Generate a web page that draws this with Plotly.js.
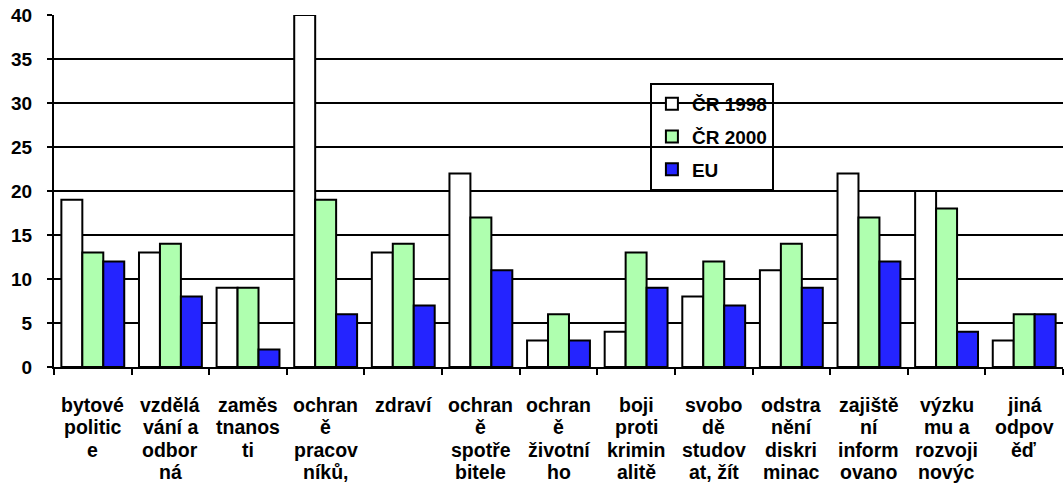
<!DOCTYPE html>
<html>
<head>
<meta charset="utf-8">
<script src="https://cdn.plot.ly/plotly-3.0.1.min.js"></script>
<style>html,body{margin:0;padding:0;background:#fff;}#chart{width:1064px;height:496px;}</style>
</head>
<body>
<div id="chart"></div>
<script>
const categories = [
  "bytové<br>politic<br>e",
  "vzdělá<br>vání a<br>odbor<br>ná",
  "zaměs<br>tnanos<br>ti",
  "ochran<br>ě<br>pracov<br>níků,",
  "zdraví",
  "ochran<br>ě<br>spotře<br>bitele",
  "ochran<br>ě<br>životní<br>ho",
  "boji<br>proti<br>krimin<br>alitě",
  "svobo<br>dě<br>studov<br>at, žít",
  "odstra<br>nění<br>diskri<br>minac",
  "zajiště<br>ní<br>inform<br>ovano",
  "výzku<br>mu a<br>rozvoji<br>novýc",
  "jiná<br>odpov<br>ěď"
];
const seriesNames = ["ČR 1998", "ČR 2000", "EU"];
const cr1998 = [19, 13, 9, 40, 13, 22, 3, 4, 8, 11, 22, 20, 3];
const cr2000 = [13, 14, 9, 19, 14, 17, 6, 13, 12, 14, 17, 18, 6];
const eu     = [12, 8, 2, 6, 7, 11, 3, 9, 7, 9, 12, 4, 6];
const yTicks = [0, 5, 10, 15, 20, 25, 30, 35, 40];

const colors = ["#FFFFFF", "#AFFFAF", "#2424FF"];
const values = [cr1998, cr2000, eu];
const fam = "Liberation Sans, Arial, sans-serif";

const traces = values.map((v, i) => ({
  type: "bar",
  name: "<b>" + seriesNames[i] + "</b>",
  legendgroup: "g" + i,
  x: categories,
  y: v,
  marker: {color: colors[i], line: {color: "#000", width: 2}},
  hoverinfo: "none"
}));

// category labels, one annotation per wrapped line
const annotations = [];
categories.forEach(cat => {
  cat.split("<br>").forEach((line, j) => {
    annotations.push({
      x: cat, xref: "x", y: 0, yref: "paper",
      text: "<b>" + line + "</b>", showarrow: false,
      xanchor: "center", yanchor: "middle",
      yshift: -(38 + 22.3 * j),
      font: {family: fam, size: 19.5, color: "#000"}
    });
  });
});

const layout = {
  width: 1064, height: 496,
  margin: {l: 54, r: 1, t: 15, b: 129, pad: 0},
  paper_bgcolor: "#fff", plot_bgcolor: "#fff",
  font: {family: fam, color: "#000", size: 16},
  barmode: "group",
  bargap: 0.19,
  bargroupgap: 0,
  showlegend: true,
  legend: {
    x: 0.5906, y: 0.807, xanchor: "left", yanchor: "top",
    bgcolor: "rgba(0,0,0,0)", bordercolor: "#000", borderwidth: 2,
    font: {family: fam, size: 19, color: "#000"},
    itemwidth: 30, tracegroupgap: 5,
    traceorder: "grouped"
  },
  annotations: annotations,
  xaxis: {
    type: "category",
    tickson: "boundaries",
    ticks: "outside", ticklen: 6, tickwidth: 2, tickcolor: "#000",
    showline: true, linecolor: "#000", linewidth: 2,
    showgrid: false,
    showticklabels: false,
    automargin: false
  },
  yaxis: {
    range: [0, 40],
    tickvals: yTicks,
    ticktext: yTicks.map(t => "<b>" + t + "</b>"),
    ticks: "outside", ticklen: 5, tickwidth: 2, tickcolor: "#000",
    showline: true, linecolor: "#000", linewidth: 2,
    showgrid: true, gridcolor: "#000", gridwidth: 2,
    zeroline: false,
    tickfont: {family: fam, size: 19, color: "#000"},
    ticklabelstandoff: 11,
    automargin: false,
    fixedrange: true
  }
};

Plotly.newPlot("chart", traces, layout, {displayModeBar: false, staticPlot: true});
</script>
</body>
</html>
